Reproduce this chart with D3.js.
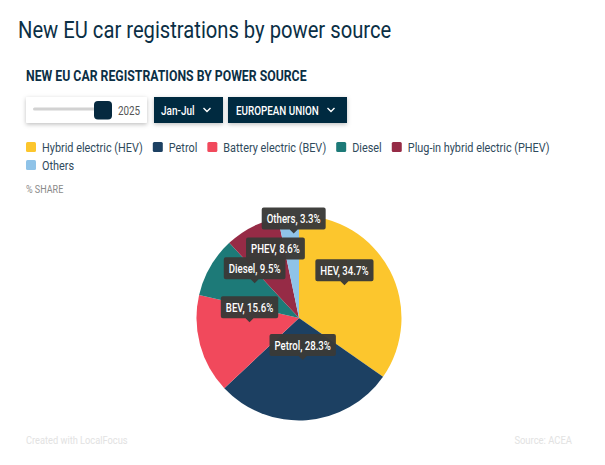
<!DOCTYPE html>
<html>
<head>
<meta charset="utf-8">
<script src="https://cdn.jsdelivr.net/npm/d3@7"></script>
<style>
html,body{margin:0;padding:0;background:#fff;}
svg{display:block;}
text{font-family:Roboto,sans-serif;}
</style>
</head>
<body>
<div id="chart"></div>
<script>
var categories = ["Hybrid electric (HEV)", "Petrol", "Battery electric (BEV)", "Diesel", "Plug-in hybrid electric (PHEV)", "Others"];
var shortNames = ["HEV", "Petrol", "BEV", "Diesel", "PHEV", "Others"];
var shares = [34.7, 28.3, 15.6, 9.5, 8.6, 3.3];
var colors = ["#fcc62d", "#1c4062", "#f1495c", "#1d7a78", "#962b46", "#8fc3e8"];

var width = 605, height = 465;
var squeeze = 0.87; //the original font is a condensed one
var navy = "#06293f";

var svg = d3.select("#chart").append("svg")
    .attr("width", width)
    .attr("height", height);

var defs = svg.append("defs");
var shadow = defs.append("filter").attr("id", "shadow")
    .attr("x", "-10%").attr("y", "-20%").attr("width", "120%").attr("height", "150%");
shadow.append("feDropShadow")
    .attr("dx", 0).attr("dy", 1.5).attr("stdDeviation", 2)
    .attr("flood-color", "#000").attr("flood-opacity", 0.25);

//Adds text, squeezed horizontally to look condensed
function label(parent, str, x, y, size, fill, weight, anchor, sq){
    var t = parent.append("text")
        .attr("x", x).attr("y", y)
        .attr("font-size", size)
        .attr("font-weight", weight || 400)
        .attr("fill", fill)
        .attr("text-anchor", anchor || "start")
        .text(str);
    var w = t.node().getComputedTextLength() * (sq || squeeze);
    t.attr("textLength", w).attr("lengthAdjust", "spacingAndGlyphs");
    t.datum(w);
    return t;
}

function chevron(parent, x, y){
    parent.append("path")
        .attr("d", "M" + (x - 3.5) + " " + (y - 2) + "L" + x + " " + (y + 1.5) + "L" + (x + 3.5) + " " + (y - 2))
        .attr("fill", "none")
        .attr("stroke", "#fff")
        .attr("stroke-width", 1.4);
}

label(svg, "New EU car registrations by power source", 18, 38, 24, "#0b2f45", 400, "start", 0.841);
label(svg, "NEW EU CAR REGISTRATIONS BY POWER SOURCE", 26, 81, 14, "#0b2f45", 700, "start", 0.876);

//Controls
var controls = svg.append("g");
controls.append("rect")
    .attr("x", 26).attr("y", 97).attr("width", 121).attr("height", 26).attr("rx", 1)
    .attr("fill", "#fff").attr("filter", "url(#shadow)");
controls.append("rect")
    .attr("x", 33).attr("y", 107.5).attr("width", 72).attr("height", 3).attr("rx", 1.5)
    .attr("fill", "#d2d2d2");
controls.append("rect")
    .attr("x", 94).attr("y", 101).attr("width", 18).attr("height", 18.5).attr("rx", 4)
    .attr("fill", navy);
label(controls, "2025", 118, 114.5, 12, "#555", 400, "start", 0.82);

controls.append("rect")
    .attr("x", 154).attr("y", 97).attr("width", 69).attr("height", 26)
    .attr("fill", navy).attr("filter", "url(#shadow)");
label(controls, "Jan-Jul", 161, 114.5, 12.5, "#fff", 500, "start", 0.8);
chevron(controls, 207, 110);

controls.append("rect")
    .attr("x", 228).attr("y", 97).attr("width", 119).attr("height", 26)
    .attr("fill", navy).attr("filter", "url(#shadow)");
label(controls, "EUROPEAN UNION", 236, 114.5, 12, "#fff", 500, "start", 0.82);
chevron(controls, 331, 110);

//Legend, wraps like the html one does
var legend = svg.append("g");
var lx = 26, ly = 147;
categories.forEach(function(c, i){
    var item = legend.append("g");
    var t = label(item, c, 16, 4.5, 12.5, "#2f4a5c");
    var w = t.datum();
    if(lx + 16 + w > 560){
        lx = 26;
        ly += 18;
    }
    item.attr("transform", "translate(" + lx + " " + ly + ")");
    item.append("rect")
        .attr("x", 0).attr("y", -5).attr("width", 10).attr("height", 10).attr("rx", 1.5)
        .attr("fill", colors[i]);
    lx += 16 + w + 10;
});

label(svg, "% SHARE", 26, 193, 11, "#8a8a8a", 400, "start", 0.82);

//Pie
var cx = 299, cy = 318, radius = 102.5;
var pie = d3.pie().sort(null).value(function(d){ return d; });
var arc = d3.arc().innerRadius(0).outerRadius(radius);
var labelArc = d3.arc().innerRadius(radius / 2).outerRadius(radius / 2);
var arcs = pie(shares);

var g = svg.append("g").attr("transform", "translate(" + cx + " " + cy + ")");

g.selectAll("path.slice")
    .data(arcs)
    .enter().append("path")
    .attr("class", "slice")
    .attr("d", arc)
    .attr("fill", function(d, i){ return colors[i]; });

//Tooltips, sit above their slice and get pushed up when they hit an earlier one
var placed = [];
arcs.forEach(function(d, i){
    var c = labelArc.centroid(d);
    var tip = g.append("g");
    var t = label(tip, shortNames[i] + ", " + shares[i].toFixed(1) + "%", 0, -10.5, 12.5, "#fff", 500, "middle", 0.77);
    var w = t.datum() + 10;
    var bottom = c[1] - 13;
    var box = {x0: c[0] - w / 2, x1: c[0] + w / 2};
    placed.forEach(function(p){
        var overlapY = Math.min(bottom, p.bottom) - Math.max(bottom - 22, p.bottom - 22);
        if(box.x0 < p.x1 && box.x1 > p.x0 && overlapY > 5){
            bottom = p.bottom - 30;
        }
    });
    placed.push({x0: box.x0, x1: box.x1, bottom: bottom});
    tip.attr("transform", "translate(" + c[0] + " " + (bottom + 4) + ")");
    tip.insert("path", "text")
        .attr("d", "M" + (-w / 2 + 2) + " -26H" + (w / 2 - 2) + "Q" + (w / 2) + " -26 " + (w / 2) + " -24V-6Q" + (w / 2) + " -4 " + (w / 2 - 2) + " -4H4L0 0L-4 -4H" + (-w / 2 + 2) + "Q" + (-w / 2) + " -4 " + (-w / 2) + " -6V-24Q" + (-w / 2) + " -26 " + (-w / 2 + 2) + " -26Z")
        .attr("fill", "#3a3a38")
        .attr("fill-opacity", 0.97);
});

//Footer
label(svg, "Created with LocalFocus", 26, 444, 11.5, "#e2e2e2", 400, "start", 0.805);
label(svg, "Source: ACEA", 572, 444, 11.5, "#e2e2e2", 400, "end", 0.82);
</script>
</body>
</html>
